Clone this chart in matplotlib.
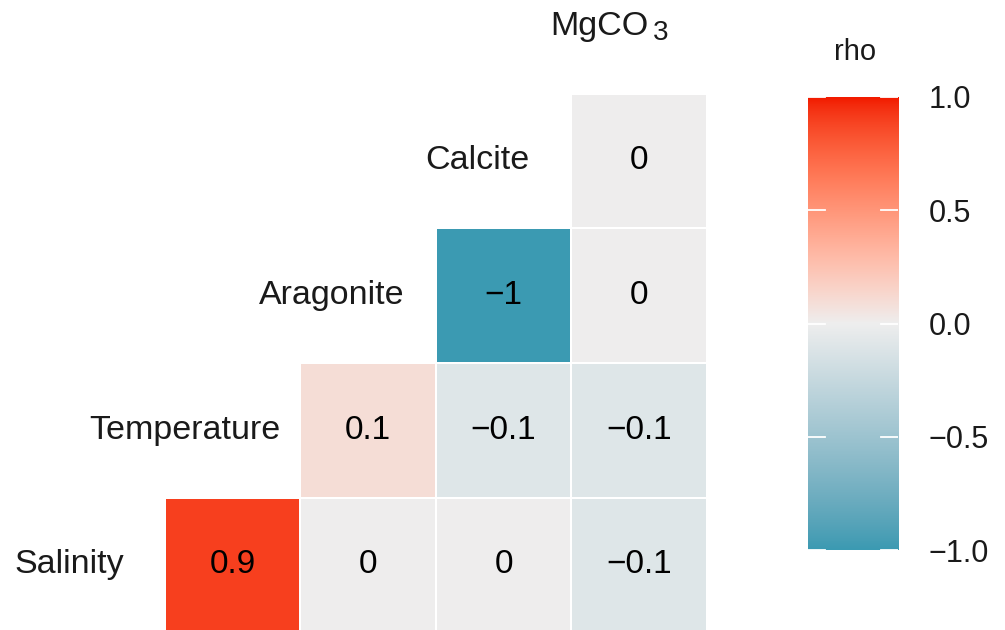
import numpy as np
import matplotlib
matplotlib.use("Agg")
import matplotlib.pyplot as plt
from matplotlib.colors import ListedColormap, Normalize, to_rgb

plt.rcParams['font.family'] = ['Liberation Sans', 'DejaVu Sans']

# variables along the diagonal, bottom to top
variables = ["Salinity", "Temperature", "Aragonite", "Calcite", "MgCO"]
subscripts = ["", "", "", "", "3"]

# correlations of each variable with the ones after it
salinity = [0.9, 0, 0, -0.1]
temperature = [0.1, -0.1, -0.1]
aragonite = [-1, 0]
calcite = [0]
rows = [salinity, temperature, aragonite, calcite]

cbar_ticks = [-1.0, -0.5, 0.0, 0.5, 1.0]


# diverging gradient interpolated in CIE Lab, as ggplot2 does
def srgb_to_lab(c):
    c = np.asarray(c, float)
    lin = np.where(c <= 0.04045, c / 12.92, ((c + 0.055) / 1.055) ** 2.4)
    m = np.array([[0.4124, 0.3576, 0.1805],
                  [0.2126, 0.7152, 0.0722],
                  [0.0193, 0.1192, 0.9505]])
    xyz = m @ lin / np.array([0.95047, 1.0, 1.08883])
    f = np.where(xyz > 0.008856, np.cbrt(xyz), 7.787 * xyz + 16 / 116)
    return np.array([116 * f[1] - 16, 500 * (f[0] - f[1]), 200 * (f[1] - f[2])])


def lab_to_srgb(lab):
    L, a, b = lab
    fy = (L + 16) / 116
    f = np.array([fy + a / 500, fy, fy - b / 200])
    xyz = np.where(f ** 3 > 0.008856, f ** 3, (f - 16 / 116) / 7.787)
    xyz *= np.array([0.95047, 1.0, 1.08883])
    m = np.array([[3.2406, -1.5372, -0.4986],
                  [-0.9689, 1.8758, 0.0415],
                  [0.0557, -0.2040, 1.0570]])
    lin = m @ xyz
    c = np.where(lin <= 0.0031308, 12.92 * lin, 1.055 * np.clip(lin, 0, None) ** (1 / 2.4) - 0.055)
    return np.clip(c, 0, 1)


low, mid, high = (srgb_to_lab(to_rgb(c)) for c in ("#3B9AB2", "#EEEEEE", "#F21A00"))
cols = []
for t in np.linspace(-1, 1, 256):
    end = high if t > 0 else low
    cols.append(lab_to_srgb(mid + abs(t) * (end - mid)))
cmap = ListedColormap(cols)
norm = Normalize(-1, 1)

n = len(variables)
mat = np.full((n, n), np.nan)
for i, r in enumerate(rows):
    for k, v in enumerate(r):
        mat[i, i + 1 + k] = v
mat = np.ma.masked_invalid(mat)

fig = plt.figure(figsize=(10.05, 6.3), dpi=100)
ax = fig.add_axes([0, 0, 800 / 1005, 1])
edges = np.arange(n + 1) - 0.5
ax.pcolormesh(edges, edges, mat, cmap=cmap, norm=norm,
              edgecolors="white", linewidth=1.3)
ax.set_xlim(-0.716, 5.188)
ax.set_ylim(-0.483, 4.195)
ax.axis("off")

for i in range(n):
    for j in range(n):
        if mat.mask[i, j]:
            continue
        v = mat[i, j]
        ax.text(j, i, f"{v:g}".replace("-", "\u2212"), ha="center", va="center",
                fontsize=24, color="black")

# diagonal labels, anchored at 75% of their width like ggcorr
fig.canvas.draw()
rend = fig.canvas.get_renderer()
for k, (name, sub) in enumerate(zip(variables, subscripts)):
    x0, y0 = ax.transData.transform((k, k))
    t = ax.text(0, 0, name, ha="left", va="center", fontsize=24.5, color="#1a1a1a",
                transform=None)
    w = t.get_window_extent(rend).width
    s = None
    if sub:
        s = ax.text(0, 0, sub, ha="left", va="center", fontsize=20, color="#1a1a1a",
                    transform=None)
        w += 4 + s.get_window_extent(rend).width
    left = x0 - 0.75 * w
    t.set_position((left, y0))
    if s is not None:
        s.set_position((left + t.get_window_extent(rend).width + 4, y0 - 7))

# colour bar
cax = fig.add_axes([808 / 1005, 80 / 630, 90 / 1005, 453 / 630])
grad = np.linspace(-1, 1, 256).reshape(-1, 1)
cax.imshow(grad, cmap=cmap, norm=norm, aspect="auto", origin="lower",
           extent=[0, 1, -1, 1])
for tk in cbar_ticks:
    cax.plot([0, 0.19], [tk, tk], color="white", lw=1.3)
    cax.plot([0.81, 1], [tk, tk], color="white", lw=1.3)
cax.set_xlim(0, 1)
cax.set_ylim(-1, 1)
cax.set_xticks([])
cax.yaxis.tick_right()
cax.set_yticks(cbar_ticks)
cax.set_yticklabels([f"{t:.1f}".replace("-", "\u2212") for t in cbar_ticks],
                    fontsize=22, color="#1a1a1a")
cax.tick_params(axis="y", length=0, pad=22)
for sp in cax.spines.values():
    sp.set_visible(False)
fig.text(855 / 1005, 1 - 52 / 630, "rho", ha="center", va="center", fontsize=21,
         color="#1a1a1a")

fig.savefig("out.png", dpi=100, facecolor="white")
